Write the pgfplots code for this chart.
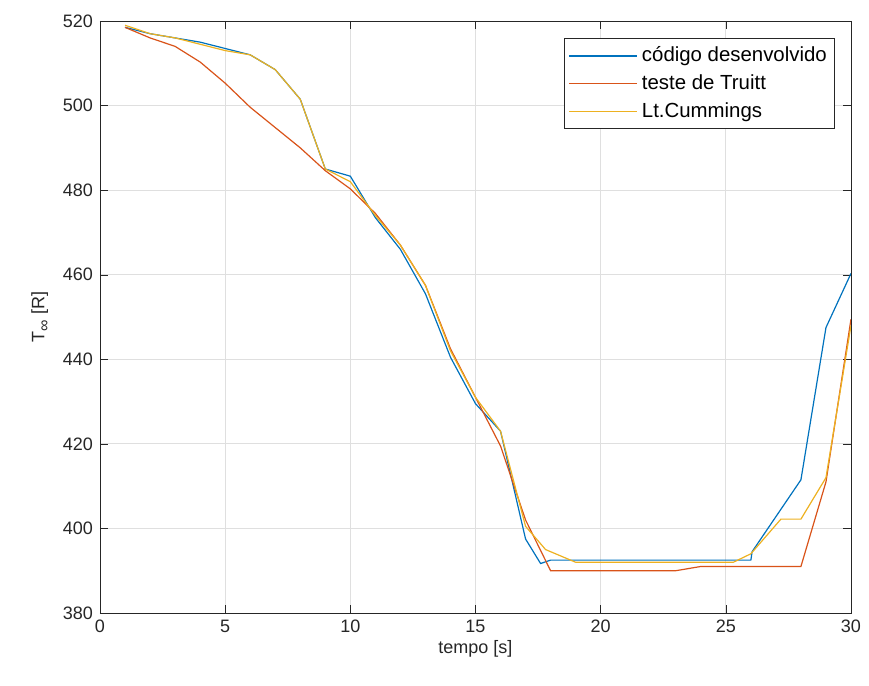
\documentclass[border=0pt]{standalone}
\usepackage{pgfplots}
\pgfplotsset{compat=1.18}
\usepackage{fontspec}
\setmainfont{Liberation Sans}
\definecolor{mb}{rgb}{0,0.447,0.741}
\definecolor{mr}{rgb}{0.85,0.325,0.098}
\definecolor{my}{rgb}{0.929,0.694,0.125}
\definecolor{ax}{rgb}{0.15,0.15,0.15}
\begin{document}
\begin{tikzpicture}
\path[use as bounding box] (-50pt,-36.5pt) rectangle (384.5pt,306.5pt);
\begin{axis}[
  scale only axis, width=375.5pt, height=296pt,
  at={(0,0)}, anchor=south west,
  xmin=0, xmax=30, ymin=380, ymax=520,
  xtick={0,5,...,30}, ytick={380,400,...,520},
  tick align=inside, axis line style={ax}, tick style={ax},
  major tick length=4pt,
  grid=major, grid style={gray!25, line width=0.4pt},
  font=\fontsize{9}{11}\selectfont,
  ticklabel style={font=\fontsize{9}{11}\selectfont, text=ax},
  /pgf/number format/assume math mode=true,
  /pgf/number format/1000 sep={},
  xlabel={tempo [s]}, ylabel={T\raisebox{-0.5ex}{\fontsize{8}{9}\selectfont ∞} [R]},
  xlabel style={text=ax, yshift=3pt}, ylabel style={text=ax, yshift=0pt},
  legend style={at={(0.979,0.971)}, anchor=north east, draw=ax, font=\fontsize{10.2}{12}\selectfont, row sep=2.5pt, inner xsep=2pt, inner ysep=3pt, nodes={inner xsep=2pt, inner ysep=1.2pt}},
  legend cell align=left,
  legend image code/.code={\draw[#1, line width=0.6pt] (0pt,0pt) -- (34pt,0pt);},
  every axis plot/.append style={line width=0.6pt},
]
\addplot[mb] coordinates {(1,518.5)(2,517)(3,516)(4,515)(5,513.5)(6,512)(7,508.5)(8,501.5)(9,485)(10,483.3)(11,473.5)(12,466)(13,455.5)(14,440.5)(15,429.5)(16,423)(17,397.5)(17.6,391.7)(18,392.5)(19,392.5)(20,392.5)(21,392.5)(22,392.5)(23,392.5)(24,392.5)(25,392.5)(26,392.5)(26.05,394.5)(28,411.5)(29,447.5)(30,460.3)};
\addlegendentry{código desenvolvido}
\addplot[mr] coordinates {(1,518.5)(2,516)(3,514)(4,510.3)(5,505.3)(6,499.6)(7,494.8)(8,490)(9,484.6)(10,480.3)(11,474.5)(12,467)(13,457.5)(14,442.5)(15,431)(16,419.5)(17,402)(18,390)(19,390)(20,390)(21,390)(22,390)(23,390)(24,391)(25,391)(26,391)(27,391)(28,391)(29,411)(30,449.5)};
\addlegendentry{teste de Truitt}
\addplot[my] coordinates {(1,519)(2,517)(3,516)(4,514.5)(5,513)(6,512)(7,508.5)(8,501.5)(9,485)(10,482)(11,474)(12,467)(13,457.5)(14,442)(15,431)(16,423)(17,400.5)(17.8,395)(18.8,392.5)(19,392)(20,392)(21,392)(22,392)(23,392)(24,392)(25.3,392)(26,394)(27.2,402.2)(28,402.2)(29,412)(30,448)};
\addlegendentry{Lt.Cummings}
\end{axis}
\end{tikzpicture}
\end{document}
